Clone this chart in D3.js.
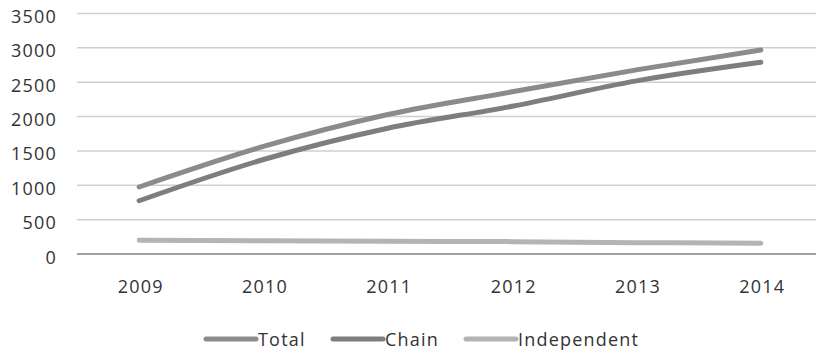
<!DOCTYPE html>
<html>
<head>
<meta charset="utf-8">
<script src="https://cdn.jsdelivr.net/npm/d3@7"></script>
<style>
  html, body { margin: 0; padding: 0; background: #fff; }
  svg text { font-family: "Open Sans", "Noto Sans", sans-serif; fill: #333; letter-spacing: 1.2px; }
</style>
</head>
<body>
<svg id="chart" width="816" height="354"></svg>
<script>
// Outlet counts by year
const years = ["2009", "2010", "2011", "2012", "2013", "2014"];
const total = [975, 1565, 2030, 2360, 2680, 2970];
const chain = [775, 1375, 1830, 2150, 2520, 2790];
const independent = [200, 192, 185, 180, 165, 158];
const yTicks = [0, 500, 1000, 1500, 2000, 2500, 3000, 3500];

const seriesNames = ["Total", "Chain", "Independent"];
const seriesValues = [total, chain, independent];
const seriesColors = ["#8b8b8d", "#7e7e80", "#b4b4b6"];

const svg = d3.select("#chart");
const plot = { left: 77, right: 823, top: 13.5, bottom: 254 };
const fontSize = 18;

const x = d3.scalePoint().domain(years).range([plot.left, plot.right]).padding(0.5);
const y = d3.scaleLinear().domain([0, 3500]).range([plot.bottom, plot.top]);

// Horizontal gridlines
svg.append("g")
  .selectAll("line")
  .data(yTicks)
  .join("line")
  .attr("x1", plot.left)
  .attr("x2", plot.right)
  .attr("y1", d => y(d))
  .attr("y2", d => y(d))
  .attr("stroke", d => d === 0 ? "#a0a0a0" : "#cfcfcf")
  .attr("stroke-width", d => d === 0 ? 2 : 1.5);

// Value axis labels
const yAxis = svg.append("g")
  .attr("transform", `translate(${plot.left - 20},0)`)
  .call(d3.axisLeft(y).tickValues(yTicks).tickFormat(d3.format("d")).tickSize(0).tickPadding(0));
yAxis.select(".domain").remove();
yAxis.selectAll("text")
  .attr("font-size", fontSize)
  .attr("dy", "0.5em")
  .style("font-family", '"Open Sans", "Noto Sans", sans-serif')
  .attr("fill", "#333");

// Category axis labels
const xAxis = svg.append("g")
  .attr("transform", `translate(0,${plot.bottom})`)
  .call(d3.axisBottom(x).tickSize(0).tickPadding(0));
xAxis.select(".domain").remove();
xAxis.selectAll("text")
  .attr("font-size", fontSize)
  .attr("x", 1)
  .attr("y", 39)
  .attr("dy", 0)
  .style("font-family", '"Open Sans", "Noto Sans", sans-serif')
  .attr("fill", "#333");

// Series lines, lightly smoothed
const line = d3.line()
  .x((d, i) => x(years[i]))
  .y(d => y(d))
  .curve(d3.curveMonotoneX);

svg.append("g")
  .selectAll("path")
  .data(seriesValues)
  .join("path")
  .attr("d", d => line(d))
  .attr("fill", "none")
  .attr("stroke", (d, i) => seriesColors[i])
  .attr("stroke-width", 5)
  .attr("stroke-linecap", "round")
  .attr("stroke-linejoin", "round");

// Legend
const legendItems = [
  { name: seriesNames[0], color: seriesColors[0], x: 206 },
  { name: seriesNames[1], color: seriesColors[1], x: 333 },
  { name: seriesNames[2], color: seriesColors[2], x: 466 }
];
const legend = svg.append("g").attr("transform", "translate(0,339)");
const items = legend.selectAll("g").data(legendItems).join("g")
  .attr("transform", d => `translate(${d.x},0)`);
items.append("line")
  .attr("x1", 0).attr("x2", 50)
  .attr("stroke", d => d.color)
  .attr("stroke-width", 5)
  .attr("stroke-linecap", "round");
items.append("text")
  .attr("x", 52)
  .attr("y", 0)
  .attr("dy", "0.38em")
  .attr("font-size", fontSize)
  .text(d => d.name);
</script>
</body>
</html>
